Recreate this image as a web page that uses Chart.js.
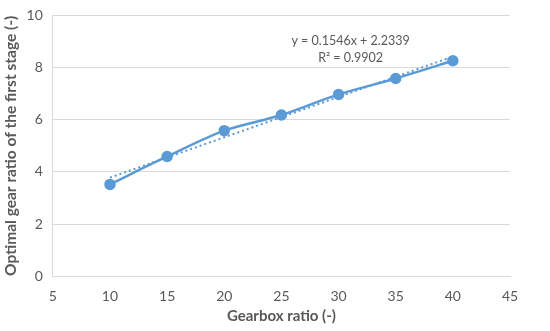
<!DOCTYPE html>
<html>
<head>
<meta charset="utf-8">
<script src="https://cdn.jsdelivr.net/npm/chart.js@4/dist/chart.umd.min.js"></script>
<style>
  html, body { margin: 0; padding: 0; background: #fff; overflow: hidden; }
  #wrap { width: 550px; height: 334px; margin-top: -3px; }
</style>
</head>
<body>
<div id="wrap"><canvas id="myChart"></canvas></div>
<script>
// gearbox ratio vs optimal first-stage ratio
var gearboxRatio = [10, 15, 20, 25, 30, 35, 40];
var optimalRatio = [3.52, 4.59, 5.58, 6.18, 6.97, 7.58, 8.26];

// linear trendline end points (y = 0.1546x + 2.2339)
var trendX = [10, 40];
var trendY = [3.78, 8.42];
var trendText = ['y = 0.1546x + 2.2339', 'R\u00b2 = 0.9902'];

var xTicks = [5, 10, 15, 20, 25, 30, 35, 40, 45];
var yTicks = [0, 2, 4, 6, 8, 10];

var blue = '#5b9bd5';
var grey = '#595959';
var font = 'Lato, "Liberation Sans", sans-serif';

var trendLabel = {
  id: 'trendLabel',
  afterDatasetsDraw: function(chart) {
    var c = chart.ctx;
    var xs = chart.scales.x, ys = chart.scales.y;
    var cx = xs.getPixelForValue(31.05);
    var cy = ys.getPixelForValue(9.03);
    c.save();
    c.fillStyle = grey;
    c.font = '12.5px ' + font;
    c.textAlign = 'center';
    c.textBaseline = 'middle';
    c.fillText(trendText[0], cx, cy);
    c.fillText(trendText[1], cx, cy + 17);
    c.restore();
  }
};

var ctx = document.getElementById('myChart').getContext('2d');

var myChart = new Chart(ctx, {
  type: 'scatter',
  data: {
    datasets: [{
      label: 'Optimal ratio',
      data: gearboxRatio.map(function(x, i) { return { x: x, y: optimalRatio[i] }; }),
      showLine: true,
      borderColor: blue,
      backgroundColor: blue,
      borderWidth: 2.5,
      pointRadius: 4.5,
      pointHoverRadius: 4.5,
      tension: 0.3,
      order: 1
    }, {
      label: 'Linear trend',
      data: trendX.map(function(x, i) { return { x: x, y: trendY[i] }; }),
      showLine: true,
      borderColor: blue,
      borderWidth: 2,
      borderDash: [2, 3],
      pointRadius: 0,
      order: 2
    }]
  },
  options: {
    responsive: true,
    maintainAspectRatio: false,
    animation: false,
    layout: { padding: { top: 0, right: 40, left: 2, bottom: 6 } },
    plugins: {
      legend: { display: false },
      tooltip: { enabled: false }
    },
    scales: {
      x: {
        type: 'linear',
        min: 5,
        max: 45,
        afterBuildTicks: function(axis) {
          axis.ticks = xTicks.map(function(v) { return { value: v }; });
        },
        grid: { display: false, drawTicks: false },
        border: { display: true, color: '#d9d9d9', width: 1 },
        ticks: { color: grey, font: { family: font, size: 14 }, padding: 12 },
        title: {
          display: true,
          text: 'Gearbox ratio (-)',
          color: grey,
          font: { family: font, size: 15, weight: 'bold' },
          padding: { top: -10, bottom: 0 }
        }
      },
      y: {
        type: 'linear',
        min: 0,
        max: 10,
        afterBuildTicks: function(axis) {
          axis.ticks = yTicks.map(function(v) { return { value: v }; });
        },
        grid: { color: '#d9d9d9', drawTicks: false },
        border: { display: true, color: '#d9d9d9', width: 1 },
        ticks: { color: grey, font: { family: font, size: 14 }, padding: 10 },
        title: {
          display: true,
          text: 'Optimal gear ratio of the first stage (-)',
          color: grey,
          font: { family: font, size: 15.5, weight: 'bold' },
          padding: { top: 0, bottom: -4 }
        }
      }
    }
  },
  plugins: [trendLabel]
});
</script>
</body>
</html>
